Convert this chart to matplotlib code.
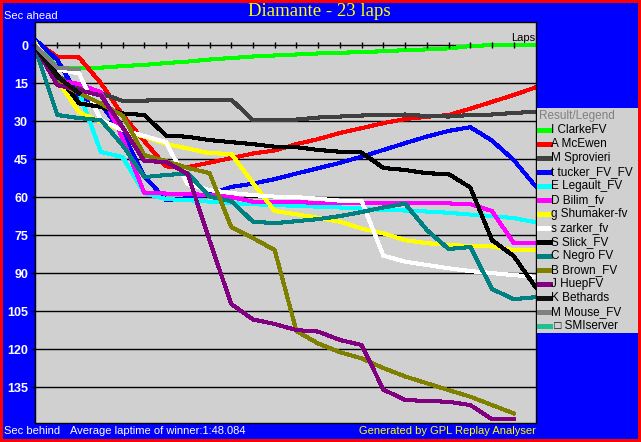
import matplotlib
matplotlib.use('Agg')
import matplotlib.pyplot as plt
from matplotlib.patches import Rectangle

W, H = 641, 442

laps = list(range(24))
drivers = ['I ClarkeFV', 'A McEwen', 'M Sprovieri', 't tucker_FV_FV', 'E Legault_FV',
           'D Bilim_fv', 'g Shumaker-fv', 's zarker_fv', 'S Slick_FV', 'C Negro FV',
           'B Brown_FV', 'J HuepFV', 'K Bethards', 'M Mouse_FV', ' \u25a1 SMIserver']
colors = ['#00ff00', '#ff0000', '#404040', '#0000ff', '#00ffff', '#ff00ff', '#ffff00',
          '#ffffff', '#000000', '#008080', '#808000', '#800080', '#101010', '#808080',
          '#20c090']

# seconds behind the leader at the end of each lap
clarke = [0, 8.8, 9.0, 8.9, 8.3, 7.8, 7.1, 6.5, 5.7, 5.1, 4.5, 4.1, 3.7, 3.3, 3.0, 2.8,
          2.4, 2.0, 1.7, 1.3, 0.4, 0, 0, 0]
mcewen = [-1.5, 4.7, 4.9, 15.0, 27.6, 37.9, 47.9, 48.2, 46.4, 44.6, 42.8, 41.6, 39.1, 37.1,
          34.7, 32.8, 30.8, 29.2, 28.3, 27.6, 25.1, 22.4, 19.7, 16.7]
sprovieri = [0.5, 12.2, 17.0, 19.1, 22.0, 21.9, 21.7, 21.6, 21.5, 21.5, 29.6, 29.6, 29.4,
             28.6, 28.2, 27.8, 27.6, 27.4, 28.0, 28.2, 27.6, 27.4, 26.8, 26.3]
tucker = [-2.0, 5.9, 20.5, 23.3, 34.7, 51.7, 61.2, 60.4, 58.8, 56.0, 54.7, 52.9, 50.7, 48.6,
          46.5, 44.0, 41.4, 38.7, 36.1, 33.9, 32.4, 37.7, 45.4, 55.7]
legault = [-0.8, 14.6, 18.6, 42.2, 44.2, 58.4, 60.8, 61.2, 61.8, 62.4, 62.8, 63.2, 63.4, 63.8,
           64.1, 64.5, 65.1, 65.3, 65.7, 66.2, 66.9, 67.5, 68.3, 69.9]
bilim = [0.4, 13.8, 15.4, 18.6, 36.7, 58.4, 58.6, 58.8, 59.2, 60.0, 61.8, 62.0, 61.9, 62.4,
         62.4, 62.4, 62.5, 62.5, 62.5, 62.5, 62.8, 65.5, 78.2, 78.2]
shumaker = [-0.7, 14.0, 26.5, 30.3, 33.5, 36.2, 39.0, 40.8, 42.7, 42.9, 54.5, 65.5, 66.8,
            68.2, 69.7, 72.4, 74.3, 77.0, 78.2, 78.9, 79.3, 79.5, 80.9, 80.9]
zarker = [0, 9.5, 11.2, 29.6, 33.5, 35.9, 38.3, 54.9, 57.2, 58.4, 59.2, 59.8, 60.0, 60.7,
          61.4, 61.6, 83.1, 85.5, 86.8, 88.1, 89.2, 90.0, 90.8, 91.5]
slick = [1.5, 11.8, 23.0, 24.4, 27.0, 27.6, 35.7, 36.2, 37.5, 38.3, 39.1, 40.1, 40.3, 41.4,
         42.1, 42.4, 48.5, 49.3, 50.6, 50.9, 56.2, 77.0, 83.3, 95.5]
negro = [2.0, 27.6, 28.8, 29.6, 39.5, 52.1, 51.3, 50.6, 59.8, 61.6, 69.7, 70.3, 69.5, 68.7,
         67.5, 65.9, 64.1, 62.6, 73.0, 80.5, 79.7, 96.3, 100.3, 99.5]
brown = [0.8, 14.6, 18.9, 23.1, 27.8, 43.4, 45.8, 48.5, 50.5, 71.8, 76.2, 80.9, 112.9, 117.8,
         121.2, 123.7, 127.5, 130.8, 133.5, 136.2, 138.8, 142.1, 145.4]
huep = [0.8, 15.8, 17.8, 19.9, 32.4, 45.8, 46.1, 50.9, 77.1, 102.2, 108.3, 110.1, 112.5,
        113.1, 116.4, 118.4, 136.0, 140.1, 140.5, 140.8, 142.1, 147.7, 147.7]
bethards = [1.0, 12.5, 19.0]
mouse = [0.3, 9.0, 9.5]
smiserver = []

series = [clarke, mcewen, sprovieri, tucker, legault, bilim, shumaker, zarker, slick,
          negro, brown, huep, bethards, mouse, smiserver]


def px_box(x0, y0, x1, y1):
    return [x0 / W, 1 - y1 / H, (x1 - x0) / W, (y1 - y0) / H]


sans = ['Liberation Sans', 'DejaVu Sans']
fig = plt.figure(figsize=(W / 100, H / 100), dpi=100, facecolor='#0000ff')
fig.patches.append(Rectangle((0, 0), 1, 1, transform=fig.transFigure, fill=False,
                             edgecolor='#ff0000', linewidth=4.3))

ax = fig.add_axes(px_box(35, 22.3, 535.5, 423.3), facecolor='#d0d0d0')
for vals, c in zip(series, colors):
    if vals:
        ax.plot(laps[:len(vals)], vals, color=c, linewidth=2.2, antialiased=False,
                solid_joinstyle='round')

# lap ticks sitting on the zero line
ax.plot(laps[1:23], [0] * 22, linestyle='none', marker='|', markersize=5,
        markeredgewidth=1, color='black')

ax.set_xlim(-0.03, 23.0)
ax.set_ylim(149.3, -9.0)
ax.set_xticks([])
ax.set_yticks(range(0, 136, 15))
ax.yaxis.grid(True, color='black', linewidth=1.0)
ax.set_axisbelow(True)
ax.tick_params(axis='y', length=3, width=1, color='black', pad=2, labelcolor='white')
for lab in ax.get_yticklabels():
    lab.set_fontweight('bold')
    lab.set_fontsize(9)
    lab.set_family(sans)
for sp in ax.spines.values():
    sp.set_color('black')
    sp.set_linewidth(1)
ax.text(22.98, -0.7, 'Laps', ha='right', va='bottom', fontsize=8, family=sans, color='black')

# legend panel
lax = fig.add_axes(px_box(537, 108, 638.5, 333), facecolor='#d0d0d0')
lax.set_xlim(0, 101.5)
lax.set_ylim(225, 0)
lax.set_xticks([])
lax.set_yticks([])
for sp in lax.spines.values():
    sp.set_visible(False)
lax.text(2, 8, 'Result/Legend', color='#808080', fontsize=8.5, family=sans, va='center')
for i, (name, c) in enumerate(zip(drivers, colors)):
    y = 22 + 14 * i
    lax.plot([2, 13], [y, y], color=c, linewidth=2.2, antialiased=False)
    lax.text(14, y, name, color='black', fontsize=8.5, family=sans, va='center')

fig.text(319 / W, 1 - 11.5 / H, 'Diamante - 23 laps', color='#ffff00', fontsize=13.5,
         family=['Liberation Serif', 'DejaVu Serif'], ha='center', va='center')
fig.text(4 / W, 1 - 16 / H, 'Sec ahead', color='white', fontsize=8, family=sans, va='center')
fig.text(4 / W, 1 - 431 / H, 'Sec behind', color='white', fontsize=8, family=sans, va='center')
fig.text(70 / W, 1 - 431 / H, 'Average laptime of winner:1:48.084', color='white',
         fontsize=8, family=sans, va='center')
fig.text(535.5 / W, 1 - 431 / H, 'Generated by GPL Replay Analyser', color='#ffff00',
         fontsize=8, family=sans, va='center', ha='right')

fig.savefig('out.png', dpi=100, facecolor=fig.get_facecolor())
